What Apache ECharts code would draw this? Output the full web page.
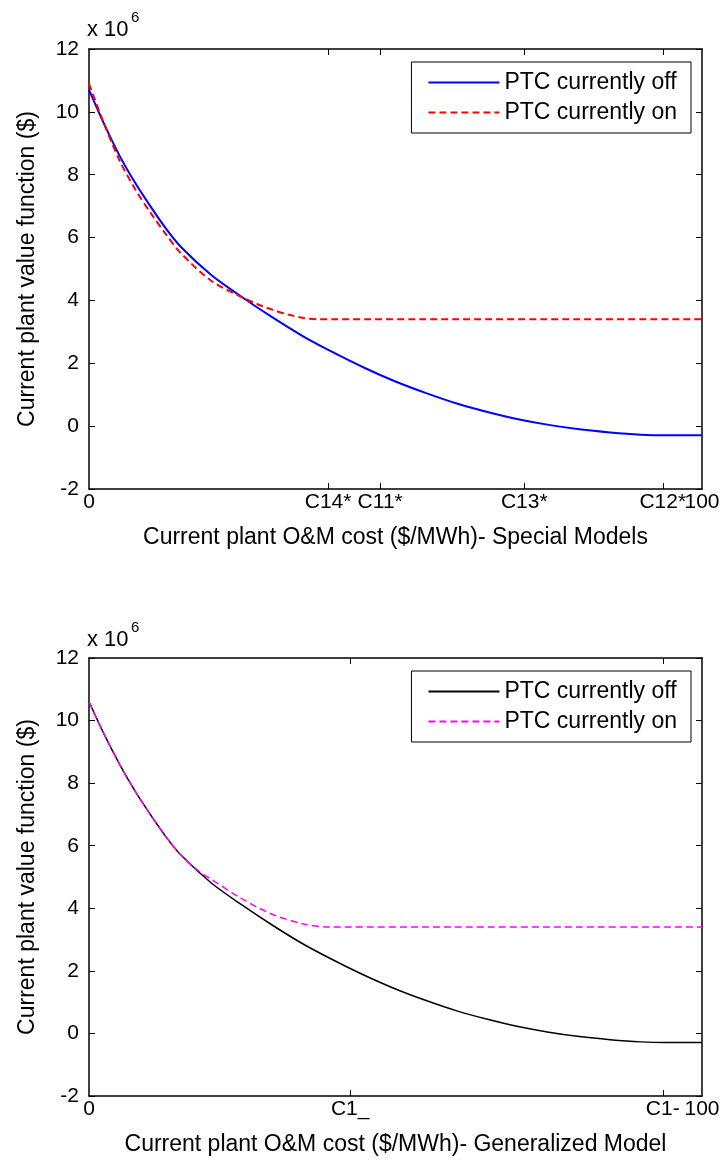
<html>
<head>
    <title></title>
    <meta charset="utf-8">
    <script src="https://cdn.jsdelivr.net/npm/echarts@6/dist/echarts.min.js" type="text/javascript"></script>
</head>
<body style="margin:0;background:#fff">
    <div id="main" style="width: 725px; height: 1162px">
    </div>
    <script>
        // O&M cost axis (0..100), values in units of 10^6 $
        var xOffTop = [0, 2.5, 5, 7.5, 10, 12.5, 15, 20, 25, 30, 35, 40, 45, 50, 55, 60, 65, 70, 75, 80, 85, 90, 94, 100];
        var offTop = [10.7, 9.6, 8.6, 7.75, 7.0, 6.3, 5.7, 4.8, 4.1, 3.45, 2.85, 2.33, 1.85, 1.42, 1.05, 0.72, 0.45, 0.22, 0.04, -0.1, -0.2, -0.27, -0.29, -0.29];
        var xOnTop = [0, 2.5, 5, 7.5, 10, 12.5, 15, 20, 25, 27.5, 30, 32.5, 35, 37.5, 40, 60, 80, 100];
        var onTop = [10.9, 9.6, 8.45, 7.55, 6.8, 6.12, 5.5, 4.62, 4.1, 3.88, 3.7, 3.55, 3.44, 3.4, 3.4, 3.4, 3.4, 3.4];

        var xOffBot = [0, 2.5, 5, 7.5, 10, 12.5, 15, 20, 25, 30, 35, 40, 45, 50, 55, 60, 65, 70, 75, 80, 85, 90, 94, 100];
        var offBot = [10.6, 9.55, 8.6, 7.75, 7.0, 6.3, 5.7, 4.8, 4.1, 3.45, 2.85, 2.33, 1.85, 1.42, 1.05, 0.72, 0.45, 0.22, 0.04, -0.1, -0.2, -0.27, -0.29, -0.29];
        var xOnBot = [0, 2.5, 5, 7.5, 10, 12.5, 15, 17.5, 20, 25, 30, 35, 39, 60, 80, 100];
        var onBot = [10.6, 9.55, 8.6, 7.75, 7.0, 6.3, 5.7, 5.25, 4.92, 4.3, 3.8, 3.5, 3.4, 3.4, 3.4, 3.4];

        // named ticks; the axis end (100) is labelled separately so it may overlap like the original
        var tickTopVals = [0, 39, 47.5, 71, 93.6];
        var tickTopLabels = ['0', 'C14*', 'C11*', 'C13*', 'C12*'];
        var tickBotVals = [0, 42.6, 93.6];
        var tickBotLabels = ['0', 'C1_', 'C1-'];
        var endVal = 100;
        var endLabel = '100';

        var yTitle = 'Current plant value function ($)';
        var xTitleTop = 'Current plant O&M cost ($/MWh)- Special Models';
        var xTitleBot = 'Current plant O&M cost ($/MWh)- Generalized Model';
        var legendNames = { offA: 'PTC currently off', onA: 'PTC currently on', offB: 'PTC currently off', onB: 'PTC currently on' };

        var FONT = "'Liberation Sans', Arial, sans-serif";

        function pairs(xs, ys) {
            var out = [];
            for (var i = 0; i < xs.length; i++) out.push([xs[i], ys[i]]);
            return out;
        }

        function lookup(vals, labels) {
            return function (v) {
                for (var i = 0; i < vals.length; i++) if (Math.abs(vals[i] - v) < 1e-6) return labels[i];
                return '';
            };
        }

        function xAxes(grid, vals, labels, title) {
            var tick = { show: true, inside: true, length: 6, customValues: vals.slice(1), lineStyle: { color: '#000' } };
            return [{
                type: 'value', gridIndex: grid, min: 0, max: 100, position: 'bottom',
                name: title, nameLocation: 'middle', nameGap: 37,
                nameTextStyle: { fontFamily: FONT, fontSize: 23, color: '#000' },
                axisLine: { show: true, onZero: false, lineStyle: { color: '#000', width: 1.5 } },
                axisTick: tick,
                splitLine: { show: false },
                axisLabel: {
                    customValues: vals, margin: 3, fontFamily: FONT, fontSize: 21, color: '#000',
                    formatter: lookup(vals, labels)
                }
            }, {
                type: 'value', gridIndex: grid, min: 0, max: 100, position: 'top',
                axisLine: { show: true, onZero: false, lineStyle: { color: '#000', width: 1.5 } },
                axisTick: tick,
                splitLine: { show: false },
                axisLabel: { show: false }
            }, {
                type: 'value', gridIndex: grid, min: 0, max: 100, position: 'bottom', offset: 0,
                axisLine: { show: false, onZero: false },
                axisTick: { show: false },
                splitLine: { show: false },
                axisLabel: {
                    customValues: [endVal], margin: 3, fontFamily: FONT, fontSize: 21, color: '#000',
                    formatter: function () { return endLabel; }
                }
            }];
        }

        function yAxes(grid) {
            return [{
                type: 'value', gridIndex: grid, min: -2, max: 12, interval: 2, position: 'left',
                name: yTitle, nameLocation: 'middle', nameGap: 50, nameRotate: 90,
                nameTextStyle: { fontFamily: FONT, fontSize: 23, color: '#000' },
                axisLine: { show: true, onZero: false, lineStyle: { color: '#000', width: 1.5 } },
                axisTick: { show: true, inside: true, length: 6, lineStyle: { color: '#000' } },
                splitLine: { show: false },
                axisLabel: { margin: 10, fontFamily: FONT, fontSize: 21, color: '#000' }
            }, {
                type: 'value', gridIndex: grid, min: -2, max: 12, interval: 2, position: 'right',
                axisLine: { show: true, onZero: false, lineStyle: { color: '#000', width: 1.5 } },
                axisTick: { show: true, inside: true, length: 6, lineStyle: { color: '#000' } },
                splitLine: { show: false },
                axisLabel: { show: false }
            }];
        }

        function legend(top, names) {
            return {
                orient: 'vertical', right: 34, top: top,
                data: names,
                itemWidth: 71, itemHeight: 14, itemGap: 7,
                padding: [9, 14, 9, 16],
                borderColor: '#000', borderWidth: 1, backgroundColor: '#fff',
                itemStyle: { opacity: 0 },
                textStyle: { fontFamily: FONT, fontSize: 23, color: '#000' },
                formatter: function (n) { return legendNames[n]; }
            };
        }

        function line(name, xi, yi, data, color, width, dashed) {
            return {
                name: name, type: 'line', xAxisIndex: xi, yAxisIndex: yi,
                data: data, showSymbol: false, symbol: 'none', smooth: 0.3,
                lineStyle: { color: color, width: width, type: dashed ? [7, 4] : 'solid' },
                itemStyle: { color: color },
                z: dashed ? 3 : 2
            };
        }

        window.onload = function () {
            var myChart = echarts.init(document.getElementById('main'));

            var option = {
                backgroundColor: '#fff',
                animation: false,
                grid: [
                    { left: 89, right: 23, top: 49, height: 440 },
                    { left: 89, right: 23, top: 658, height: 438 }
                ],
                xAxis: xAxes(0, tickTopVals, tickTopLabels, xTitleTop).concat(xAxes(1, tickBotVals, tickBotLabels, xTitleBot)),
                yAxis: yAxes(0).concat(yAxes(1)),
                legend: [legend(62, ['offA', 'onA']), legend(671, ['offB', 'onB'])],
                graphic: [
                    { type: 'text', left: 87, top: 19, style: { text: 'x 10', fontFamily: FONT, fontSize: 22, fill: '#000' } },
                    { type: 'text', left: 131, top: 10, style: { text: '6', fontFamily: FONT, fontSize: 15, fill: '#000' } },
                    { type: 'text', left: 87, top: 629, style: { text: 'x 10', fontFamily: FONT, fontSize: 22, fill: '#000' } },
                    { type: 'text', left: 131, top: 620, style: { text: '6', fontFamily: FONT, fontSize: 15, fill: '#000' } }
                ],
                series: [
                    line('offA', 0, 0, pairs(xOffTop, offTop), '#0000ff', 2, false),
                    line('onA', 0, 0, pairs(xOnTop, onTop), '#ff0000', 2, true),
                    line('offB', 3, 2, pairs(xOffBot, offBot), '#000000', 1.5, false),
                    line('onB', 3, 2, pairs(xOnBot, onBot), '#ff00ff', 1.5, true)
                ]
            };
            myChart.setOption(option);
        }
    </script>
</body>
</html>
